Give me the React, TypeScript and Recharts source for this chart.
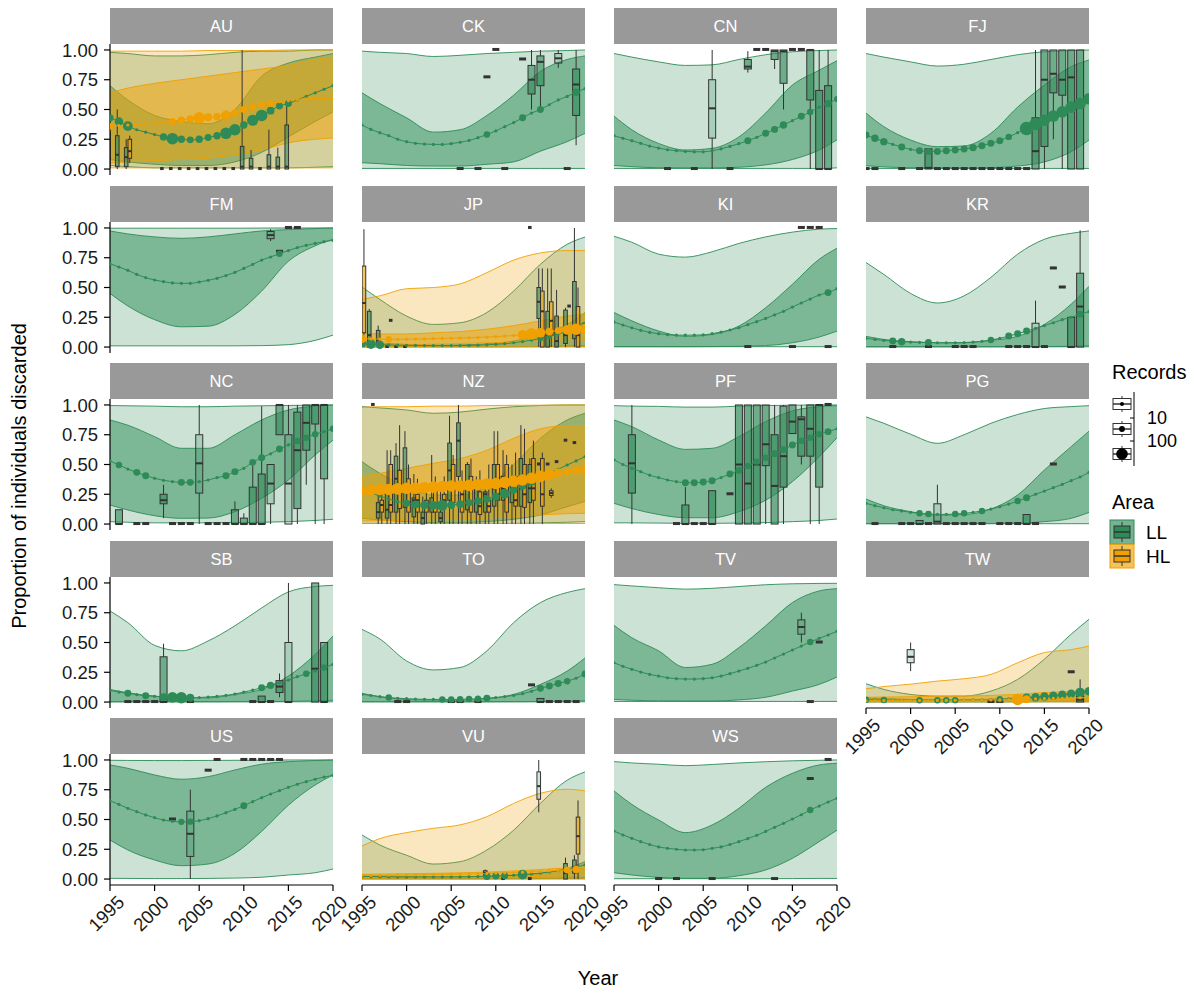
import React from "react";
import { ComposedChart, Area, Line, Bar, XAxis, YAxis } from "recharts";

const LL_COLOR = "#2E8B57";
const HL_COLOR = "#F0A000";
const INK = "#333333";
const TEXT = "#1a1a1a";
const STRIP_BG = "#999999";
const FONT = '"Liberation Sans", Arial, Helvetica, sans-serif';

const COL_X = [110, 362, 614, 866];
const ROW_Y = [8, 186, 363, 541, 718];
const PW = 223;
const PH = 131;
const STRIP_H = 36;

const YEARS = [1995, 1996, 1997, 1998, 1999, 2000, 2001, 2002, 2003, 2004, 2005, 2006, 2007,
  2008, 2009, 2010, 2011, 2012, 2013, 2014, 2015, 2016, 2017, 2018, 2019, 2020];
const KNOTS = [1995, 1997, 2000, 2003, 2006, 2009, 2012, 2015, 2018, 2020];
const X_TICKS = [1995, 2000, 2005, 2010, 2015, 2020];
const Y_TICKS = [0, 0.25, 0.5, 0.75, 1];
const RECORD_KEYS = [1, 10, 100];

// band rows: [outer low, inner low, inner high, outer high], one per knot
// box rows: [year, min, q1, median, q3, max, few] or [year, value] for a single value

// ---- AU ----
const AU_LL_MID = [0.43, 0.40, 0.36, 0.33, 0.31, 0.29, 0.27, 0.255, 0.25, 0.245, 0.25, 0.265, 0.28, 0.30, 0.33,
  0.37, 0.41, 0.45, 0.49, 0.53, 0.55, 0.58, 0.61, 0.64, 0.67, 0.70];
const AU_LL_BAND = [[0.03, 0.08, 0.70, 0.98], [0.02, 0.06, 0.58, 0.97], [0.01, 0.04, 0.45, 0.95], [0.01, 0.03, 0.40, 0.95],
  [0.01, 0.03, 0.38, 0.96], [0.01, 0.06, 0.50, 0.98], [0.01, 0.14, 0.78, 0.99], [0.01, 0.27, 0.89, 0.99],
  [0.015, 0.40, 0.94, 1.0], [0.02, 0.48, 0.97, 1.0]];
const AU_LL_REC = [[1995, 25], [1996, 40], [1997, 60], [2001, 25], [2002, 100], [2003, 25], [2004, 20], [2005, 25],
  [2006, 20], [2007, 25], [2008, 100], [2009, 100], [2010, 25], [2011, 90], [2012, 100], [2013, 30], [2014, 20], [2015, 20]];
const AU_LL_BOX = [[1995, 0, 0.01, 0.05, 0.31, 0.36, 0], [1996, 0, 0.02, 0.12, 0.28, 0.5, 0], [1997, 0, 0.02, 0.1, 0.18, 0.25, 0],
  [2001, 0], [2002, 0], [2003, 0], [2004, 0], [2005, 0], [2006, 0], [2007, 0], [2008, 0], [2009, 0],
  [2010, 0, 0, 0.02, 0.19, 1, 0], [2011, 0, 0, 0.02, 0.09, 0.16, 0], [2012, 0], [2013, 0, 0, 0.02, 0.12, 0.33, 0],
  [2014, 0, 0, 0.02, 0.1, 0.18, 0], [2015, 0, 0, 0.02, 0.37, 0.58, 0]];
const AU_HL_MID = [0.36, 0.365, 0.37, 0.375, 0.38, 0.385, 0.39, 0.40, 0.41, 0.42, 0.43, 0.435, 0.44, 0.45, 0.47,
  0.50, 0.52, 0.54, 0.55, 0.565, 0.575, 0.585, 0.59, 0.59, 0.59, 0.59];
const AU_HL_BAND = [[0.01, 0.05, 0.64, 0.99], [0.01, 0.06, 0.68, 0.99], [0.01, 0.07, 0.72, 0.99], [0.01, 0.08, 0.75, 0.99],
  [0.01, 0.09, 0.78, 0.995], [0.01, 0.12, 0.81, 0.995], [0.01, 0.16, 0.84, 0.995], [0.01, 0.22, 0.87, 1.0],
  [0.01, 0.25, 0.92, 1.0], [0.01, 0.26, 0.94, 1.0]];
const AU_HL_REC = [[1995, 15], [2002, 20], [2003, 25], [2004, 25], [2005, 100], [2006, 30], [2007, 25], [2008, 60],
  [2009, 25], [2010, 20], [2011, 20], [2012, 20], [2013, 15]];
const AU_HL_BOX = [[1997, 0.05, 0.09, 0.15, 0.25, 0.28, 0]];

// ---- CK ----
const CK_LL_MID = [0.37, 0.333, 0.305, 0.28, 0.25, 0.23, 0.216, 0.21, 0.207, 0.207, 0.213, 0.225, 0.24, 0.263, 0.29,
  0.32, 0.356, 0.39, 0.43, 0.47, 0.50, 0.54, 0.58, 0.61, 0.645, 0.675];
const CK_LL_BAND = [[0.005, 0.053, 0.64, 0.99], [0.005, 0.045, 0.55, 0.98], [0.005, 0.03, 0.43, 0.97], [0.005, 0.025, 0.31, 0.945],
  [0.005, 0.025, 0.33, 0.955], [0.005, 0.04, 0.45, 0.97], [0.005, 0.06, 0.62, 0.98], [0.005, 0.15, 0.82, 0.99],
  [0.005, 0.23, 0.92, 0.995], [0.005, 0.30, 0.95, 1.0]];
const CK_LL_REC = [[2009, 15], [2013, 20], [2015, 20], [2019, 25]];
const CK_LL_BOX = [[2006, 0], [2008, 0], [2009, 0.77], [2010, 1], [2011, 0], [2013, 0.92],
  [2014, 0.5, 0.63, 0.75, 0.87, 1, 0], [2015, 0.5, 0.7, 0.9, 0.95, 1, 0], [2017, 0.85, 0.89, 0.93, 0.97, 1, 1],
  [2018, 0], [2019, 0.2, 0.45, 0.71, 0.84, 1, 0]];

// ---- CN ----
const CN_LL_MID = [0.28, 0.258, 0.238, 0.216, 0.193, 0.176, 0.162, 0.154, 0.148, 0.145, 0.145, 0.154, 0.17, 0.19, 0.213,
  0.238, 0.266, 0.30, 0.333, 0.37, 0.406, 0.443, 0.48, 0.52, 0.55, 0.588];
const CN_LL_BAND = [[0.005, 0.03, 0.445, 0.97], [0.005, 0.02, 0.33, 0.94], [0.005, 0.011, 0.215, 0.90], [0.005, 0.01, 0.16, 0.87],
  [0.005, 0.01, 0.174, 0.875], [0.005, 0.015, 0.27, 0.92], [0.005, 0.035, 0.47, 0.96], [0.005, 0.08, 0.705, 0.985],
  [0.005, 0.16, 0.83, 0.995], [0.01, 0.245, 0.91, 1.0]];
const CN_LL_REC = [[2010, 20], [2012, 20], [2013, 20], [2014, 25], [2016, 20], [2017, 15], [2019, 25], [2020, 10]];
const CN_LL_BOX = [[2001, 0], [2004, 0], [2006, 0, 0.26, 0.51, 0.75, 1, 1], [2008, 0], [2010, 0.81, 0.84, 0.86, 0.92, 0.99, 0],
  [2011, 1], [2012, 1], [2013, 0.84, 0.92, 0.99, 1, 1, 0], [2014, 0.5, 0.72, 0.99, 1, 1, 0], [2015, 1], [2016, 1],
  [2017, 0, 0.58, 1, 1, 1, 0], [2018, 0, 0, 0, 0.66, 1, 0], [2019, 0, 0, 0, 0.7, 1, 0]];

// ---- FJ ----
const FJ_LL_MID = [0.286, 0.258, 0.23, 0.207, 0.185, 0.165, 0.154, 0.148, 0.148, 0.154, 0.16, 0.168, 0.18, 0.196, 0.216,
  0.238, 0.27, 0.305, 0.34, 0.378, 0.41, 0.445, 0.48, 0.52, 0.55, 0.59];
const FJ_LL_BAND = [[0.005, 0.028, 0.47, 0.97], [0.005, 0.018, 0.356, 0.94], [0.005, 0.011, 0.244, 0.90], [0.005, 0.008, 0.188, 0.865],
  [0.005, 0.008, 0.194, 0.88], [0.005, 0.012, 0.30, 0.92], [0.005, 0.025, 0.52, 0.96], [0.005, 0.06, 0.705, 0.985],
  [0.005, 0.146, 0.86, 0.995], [0.005, 0.244, 0.916, 1.0]];
const FJ_LL_REC = [[1995, 20], [1996, 25], [1997, 25], [1999, 20], [2001, 20], [2002, 20], [2003, 20], [2004, 20], [2005, 20],
  [2006, 20], [2007, 25], [2008, 20], [2009, 20], [2010, 20], [2011, 15], [2013, 150], [2014, 120], [2015, 100],
  [2016, 100], [2017, 100], [2018, 100], [2019, 100], [2020, 100]];
const FJ_LL_BOX = [[1995, 0], [1996, 0], [1999, 0], [2001, 0], [2002, 0, 0, 0.01, 0.17, 0.17, 0], [2003, 0], [2004, 0],
  [2005, 0], [2006, 0], [2007, 0], [2008, 0], [2009, 0], [2010, 0], [2011, 0], [2012, 0], [2013, 0],
  [2014, 0, 0, 0.15, 0.43, 1, 0], [2015, 0, 0.19, 0.75, 1, 1, 0], [2016, 0.25, 0.64, 0.8, 1, 1, 0],
  [2017, 0, 0.62, 0.75, 1, 1, 0], [2018, 0, 0, 0.77, 1, 1, 0], [2019, 0, 0, 0.55, 1, 1, 0]];

// ---- FM ----
const FM_LL_MID = [0.70, 0.672, 0.644, 0.61, 0.583, 0.563, 0.549, 0.538, 0.535, 0.535, 0.546, 0.56, 0.577, 0.60, 0.627,
  0.66, 0.694, 0.73, 0.756, 0.784, 0.81, 0.835, 0.854, 0.87, 0.885, 0.896];
const FM_LL_BAND = [[0.01, 0.45, 0.975, 0.998], [0.01, 0.345, 0.95, 0.998], [0.01, 0.23, 0.925, 0.998], [0.01, 0.17, 0.913, 0.998],
  [0.01, 0.175, 0.925, 0.998], [0.01, 0.274, 0.95, 0.998], [0.012, 0.47, 0.975, 0.999], [0.02, 0.72, 0.986, 1.0],
  [0.056, 0.85, 0.995, 1.0], [0.10, 0.905, 1.0, 1.0]];
const FM_LL_REC = [[2014, 15]];
const FM_LL_BOX = [[2013, 0.89, 0.91, 0.94, 0.97, 0.99, 1], [2014, 0.8], [2015, 1], [2016, 1]];

// ---- JP ----
const JP_LL_MID = [0.03, 0.025, 0.02, 0.018, 0.016, 0.015, 0.014, 0.013, 0.012, 0.012, 0.012, 0.013, 0.014, 0.016, 0.019,
  0.023, 0.028, 0.036, 0.046, 0.058, 0.072, 0.09, 0.11, 0.13, 0.155, 0.18];
const JP_LL_BAND = [[0.002, 0.002, 0.05, 0.504], [0.002, 0.002, 0.035, 0.40], [0.002, 0.002, 0.022, 0.26], [0.002, 0.002, 0.017, 0.19],
  [0.002, 0.002, 0.018, 0.204], [0.002, 0.002, 0.028, 0.29], [0.002, 0.003, 0.05, 0.47], [0.002, 0.005, 0.106, 0.695],
  [0.002, 0.008, 0.19, 0.863], [0.002, 0.01, 0.29, 0.924]];
const JP_LL_REC = [[1995, 30], [1996, 60], [1997, 40], [2015, 10], [2016, 10], [2019, 20], [2020, 30]];
const JP_LL_BOX = [[1996, 0, 0, 0.1, 0.3, 0.32, 0], [1997, 0, 0.02, 0.06, 0.14, 0.18, 0], [1998, 0], [1999, 0], [2000, 0],
  [2014, 1], [2015, 0, 0.24, 0.38, 0.5, 0.66, 0], [2016, 0, 0, 0.1, 0.3, 0.66, 0], [2017, 0, 0, 0.05, 0.26, 0.48, 0],
  [2018, 0, 0.03, 0.1, 0.31, 0.33, 0], [2019, 0, 0.07, 0.12, 0.55, 1, 0]];
const JP_HL_MID = [0.07, 0.068, 0.066, 0.065, 0.065, 0.066, 0.067, 0.068, 0.07, 0.072, 0.074, 0.076, 0.078, 0.081, 0.084,
  0.088, 0.092, 0.097, 0.103, 0.11, 0.12, 0.13, 0.138, 0.145, 0.15, 0.155];
const JP_HL_BAND = [[0.003, 0.02, 0.12, 0.40], [0.003, 0.02, 0.11, 0.43], [0.003, 0.02, 0.11, 0.49], [0.003, 0.025, 0.12, 0.50],
  [0.003, 0.03, 0.13, 0.53], [0.003, 0.035, 0.15, 0.625], [0.003, 0.04, 0.18, 0.73], [0.003, 0.05, 0.22, 0.79],
  [0.003, 0.06, 0.26, 0.81], [0.003, 0.06, 0.28, 0.81]];
const JP_HL_REC = [[1995, 40], [1998, 15], [2013, 60], [2014, 100], [2015, 60], [2016, 30], [2017, 20], [2018, 60],
  [2019, 100], [2020, 60]];
const JP_HL_BOX = [[1995, 0, 0.12, 0.37, 0.68, 0.99, 0], [1998, 0.22], [2015, 0, 0, 0.3, 0.47, 0.66, 0],
  [2016, 0, 0.1, 0.22, 0.38, 0.66, 0], [2018, 0.34], [2019, 0, 0, 0.1, 0.34, 0.5, 0]];

// ---- KI ----
const KI_LL_MID = [0.21, 0.185, 0.162, 0.14, 0.123, 0.112, 0.104, 0.10, 0.10, 0.10, 0.102, 0.112, 0.126, 0.143, 0.162,
  0.188, 0.213, 0.24, 0.27, 0.30, 0.336, 0.37, 0.403, 0.437, 0.457, 0.49];
const KI_LL_BAND = [[0.003, 0.003, 0.29, 0.93], [0.003, 0.003, 0.22, 0.88], [0.003, 0.003, 0.135, 0.78], [0.003, 0.003, 0.09, 0.755],
  [0.003, 0.004, 0.106, 0.80], [0.003, 0.006, 0.176, 0.87], [0.003, 0.012, 0.33, 0.925], [0.003, 0.036, 0.527, 0.965],
  [0.003, 0.084, 0.737, 0.99], [0.003, 0.134, 0.83, 0.995]];
const KI_LL_REC = [[2019, 20]];
const KI_LL_BOX = [[2010, 0], [2015, 0], [2016, 1], [2017, 1], [2018, 1], [2019, 0]];

// ---- KR ----
const KR_LL_MID = [0.073, 0.064, 0.056, 0.05, 0.045, 0.042, 0.04, 0.038, 0.036, 0.036, 0.036, 0.038, 0.042, 0.048, 0.059,
  0.073, 0.092, 0.112, 0.134, 0.157, 0.18, 0.204, 0.23, 0.25, 0.275, 0.297];
const KR_LL_BAND = [[0.002, 0.002, 0.09, 0.71], [0.002, 0.002, 0.064, 0.61], [0.002, 0.002, 0.045, 0.45], [0.002, 0.002, 0.036, 0.37],
  [0.002, 0.002, 0.036, 0.43], [0.002, 0.002, 0.056, 0.585], [0.002, 0.003, 0.09, 0.78], [0.002, 0.004, 0.19, 0.905],
  [0.002, 0.006, 0.36, 0.955], [0.002, 0.01, 0.51, 0.975]];
const KR_LL_REC = [[1998, 20], [1999, 25], [2002, 20], [2009, 15], [2011, 20], [2012, 20], [2013, 20], [2019, 20]];
const KR_LL_BOX = [[1998, 0], [2002, 0], [2005, 0], [2006, 0], [2007, 0], [2011, 0], [2012, 0], [2013, 0],
  [2014, 0, 0, 0, 0.2, 0.39, 1], [2015, 0], [2016, 0.66], [2017, 0.5], [2018, 0, 0, 0, 0.25, 0.25, 0],
  [2019, 0, 0, 0.34, 0.62, 0.98, 0]];

// ---- NC ----
const NC_LL_MID = [0.53, 0.496, 0.462, 0.434, 0.406, 0.384, 0.367, 0.356, 0.35, 0.35, 0.356, 0.37, 0.39, 0.406, 0.44,
  0.468, 0.518, 0.557, 0.59, 0.63, 0.664, 0.697, 0.725, 0.754, 0.776, 0.80];
const NC_LL_BAND = [[0.02, 0.16, 0.874, 0.995], [0.015, 0.118, 0.83, 0.993], [0.01, 0.07, 0.734, 0.99], [0.01, 0.048, 0.636, 0.985],
  [0.01, 0.05, 0.636, 0.985], [0.012, 0.104, 0.75, 0.99], [0.015, 0.216, 0.874, 0.993], [0.02, 0.37, 0.958, 0.996],
  [0.03, 0.58, 0.99, 0.998], [0.04, 0.705, 1.0, 1.0]];
const NC_LL_REC = [[1996, 15], [1998, 20], [1999, 20], [2003, 20], [2004, 20], [2008, 20], [2009, 20], [2011, 20],
  [2012, 20], [2014, 20], [2016, 15], [2017, 15], [2018, 15], [2020, 15]];
const NC_LL_BOX = [[1996, 0, 0, 0, 0.12, 0.12, 0], [1998, 0], [1999, 0], [2001, 0.05, 0.17, 0.2, 0.25, 0.33, 0], [2002, 0],
  [2003, 0], [2004, 0], [2005, 0, 0.26, 0.51, 0.75, 1, 1], [2006, 0], [2007, 0], [2008, 0], [2009, 0, 0, 0, 0.12, 0.19, 0],
  [2010, 0, 0, 0, 0.05, 0.09, 0], [2011, 0, 0, 0, 0.31, 0.49, 0], [2012, 0, 0, 0, 0.42, 0.99, 0],
  [2013, 0, 0.17, 0.34, 0.5, 0.5, 1], [2014, 0.75, 0.75, 1, 1, 1, 0], [2015, 0, 0, 0.34, 0.75, 1, 1],
  [2016, 0, 0.13, 0.62, 0.94, 1, 0], [2017, 0.33, 0.62, 0.85, 1, 1, 0], [2018, 0, 0.84, 1, 1, 1, 0], [2019, 0, 0.38, 1, 1, 1, 0]];

// ---- NZ ----
const NZ_LL_MID = [0.30, 0.263, 0.235, 0.21, 0.188, 0.174, 0.165, 0.16, 0.157, 0.157, 0.16, 0.168, 0.18, 0.193, 0.21,
  0.23, 0.255, 0.286, 0.32, 0.356, 0.39, 0.426, 0.46, 0.496, 0.53, 0.566];
const NZ_LL_BAND = [[0.005, 0.048, 0.524, 0.986], [0.005, 0.035, 0.426, 0.975], [0.005, 0.02, 0.314, 0.958], [0.005, 0.012, 0.244, 0.93],
  [0.005, 0.012, 0.244, 0.94], [0.005, 0.02, 0.314, 0.965], [0.005, 0.04, 0.50, 0.985], [0.01, 0.076, 0.72, 0.995],
  [0.015, 0.146, 0.874, 1.0], [0.02, 0.19, 0.93, 1.0]];
const NZ_LL_REC = [[2000, 20], [2001, 30], [2002, 40], [2003, 40], [2004, 80], [2005, 30], [2006, 30], [2007, 25],
  [2008, 25], [2009, 25], [2010, 30], [2011, 60], [2012, 25], [2013, 25], [2014, 30], [2015, 20]];
const NZ_LL_BOX = [[1997, 0, 0.05, 0.1, 0.18, 0.3, 0], [1998, 0, 0.05, 0.12, 0.3, 0.62, 0], [1999, 0, 0.1, 0.38, 0.57, 0.68, 0],
  [2000, 0, 0.14, 0.3, 0.64, 0.78, 0], [2001, 0, 0.06, 0.2, 0.22, 0.42, 0], [2002, 0, 0, 0.05, 0.1, 0.23, 0],
  [2003, 0, 0.1, 0.17, 0.22, 0.58, 0], [2004, 0, 0.02, 0.05, 0.1, 0.28, 0], [2005, 0, 0.2, 0.45, 0.68, 0.91, 0],
  [2006, 0, 0.4, 0.7, 0.85, 1, 0], [2007, 0, 0.12, 0.3, 0.5, 0.52, 0], [2008, 0, 0.1, 0.2, 0.3, 0.4, 0],
  [2009, 0, 0.1, 0.25, 0.27, 0.33, 0], [2010, 0, 0.15, 0.3, 0.5, 0.78, 0], [2011, 0, 0.2, 0.3, 0.4, 0.62, 0],
  [2012, 0, 0.18, 0.3, 0.35, 0.5, 0], [2013, 0, 0.15, 0.3, 0.55, 0.83, 0], [2014, 0, 0.18, 0.3, 0.5, 0.55, 0],
  [2015, 0.5], [2016, 0.5], [2017, 0.52], [2018, 0.7], [2019, 0.68]];
const NZ_HL_MID = [0.28, 0.285, 0.29, 0.29, 0.295, 0.30, 0.30, 0.305, 0.31, 0.315, 0.32, 0.32, 0.325, 0.33, 0.335,
  0.34, 0.35, 0.36, 0.37, 0.385, 0.40, 0.415, 0.43, 0.44, 0.45, 0.455];
const NZ_HL_BAND = [[0.005, 0.025, 0.40, 0.98], [0.005, 0.028, 0.426, 0.985], [0.005, 0.03, 0.468, 0.985], [0.005, 0.036, 0.51, 0.99],
  [0.005, 0.042, 0.55, 0.99], [0.005, 0.05, 0.62, 0.995], [0.005, 0.062, 0.72, 0.997], [0.005, 0.076, 0.80, 0.998],
  [0.005, 0.087, 0.826, 1.0], [0.005, 0.09, 0.826, 1.0]];
const NZ_HL_REC = [[1995, 60], [1996, 80], [1997, 100], [1998, 100], [1999, 100], [2000, 100], [2001, 100], [2002, 100],
  [2003, 100], [2004, 100], [2005, 100], [2006, 100], [2007, 100], [2008, 100], [2009, 100], [2010, 100], [2011, 100],
  [2012, 100], [2013, 100], [2014, 100], [2015, 100], [2016, 100], [2017, 40], [2018, 20], [2019, 30], [2020, 60]];
const NZ_HL_BOX = [[1996, 1], [1997, 0, 0.1, 0.16, 0.2, 0.28, 0], [1998, 0, 0.1, 0.16, 0.5, 0.62, 0], [1999, 0, 0.13, 0.3, 0.45, 0.83, 0],
  [2000, 0, 0.1, 0.18, 0.38, 0.5, 0], [2001, 0, 0.1, 0.2, 0.25, 0.38, 0], [2002, 0, 0.1, 0.15, 0.2, 0.32, 0],
  [2003, 0, 0.1, 0.17, 0.3, 0.4, 0], [2004, 0, 0.15, 0.2, 0.25, 0.4, 0], [2005, 0, 0.18, 0.35, 0.5, 0.58, 0],
  [2006, 0, 0.1, 0.25, 0.35, 0.45, 0], [2007, 0, 0.1, 0.3, 0.4, 0.55, 0], [2008, 0, 0.08, 0.15, 0.27, 0.45, 0],
  [2009, 0, 0.1, 0.15, 0.2, 0.5, 0], [2010, 0, 0.2, 0.25, 0.5, 0.78, 0], [2011, 0, 0.1, 0.25, 0.5, 0.58, 0],
  [2012, 0, 0.15, 0.2, 0.4, 0.6, 0], [2013, 0, 0.14, 0.25, 0.5, 0.8, 0], [2014, 0, 0.2, 0.3, 0.55, 0.7, 0],
  [2015, 0, 0.15, 0.25, 0.55, 0.6, 0], [2016, 0.22, 0.24, 0.26, 0.28, 0.3, 1]];

// ---- PF ----
const PF_LL_MID = [0.54, 0.50, 0.468, 0.44, 0.41, 0.39, 0.37, 0.356, 0.347, 0.347, 0.353, 0.364, 0.39, 0.42, 0.45,
  0.487, 0.524, 0.557, 0.59, 0.625, 0.664, 0.70, 0.725, 0.754, 0.776, 0.80];
const PF_LL_BAND = [[0.01, 0.174, 0.874, 0.994], [0.01, 0.13, 0.818, 0.99], [0.008, 0.08, 0.706, 0.988], [0.006, 0.053, 0.627, 0.982],
  [0.006, 0.053, 0.636, 0.982], [0.008, 0.104, 0.734, 0.99], [0.012, 0.20, 0.86, 0.995], [0.02, 0.356, 0.95, 0.998],
  [0.03, 0.566, 0.986, 1.0], [0.042, 0.725, 0.994, 1.0]];
const PF_LL_REC = [[2003, 20], [2004, 20], [2005, 20], [2006, 20], [2008, 20], [2009, 20], [2010, 15], [2011, 15],
  [2012, 15], [2013, 20], [2014, 20], [2015, 20], [2016, 15], [2017, 15], [2018, 15], [2019, 20]];
const PF_LL_BOX = [[1997, 0, 0.26, 0.51, 0.75, 1, 0], [2002, 0], [2003, 0, 0, 0, 0.16, 0.31, 0], [2004, 0], [2005, 0],
  [2006, 0, 0, 0, 0.28, 0.28, 0], [2008, 0.25], [2009, 0, 0, 0.5, 1, 1, 0], [2010, 0, 0, 0.34, 1, 1, 0],
  [2011, 0, 0, 0.5, 1, 1, 0], [2012, 0, 0.49, 0.67, 1, 1, 0], [2013, 0, 0, 0.32, 0.75, 1, 0], [2014, 0, 0.31, 0.57, 0.99, 1, 0],
  [2015, 0.76, 0.76, 0.86, 1, 1, 0], [2016, 0.5, 0.57, 0.88, 0.9, 1, 0], [2017, 0, 0.57, 0.8, 1, 1, 0],
  [2018, 0, 0.31, 1, 1, 1, 0], [2019, 1]];

// ---- PG ----
const PG_LL_MID = [0.174, 0.154, 0.137, 0.12, 0.11, 0.098, 0.09, 0.084, 0.081, 0.081, 0.084, 0.09, 0.098, 0.11, 0.126,
  0.146, 0.168, 0.193, 0.22, 0.25, 0.277, 0.305, 0.333, 0.364, 0.395, 0.434];
const PG_LL_BAND = [[0.003, 0.003, 0.21, 0.90], [0.003, 0.003, 0.154, 0.846], [0.003, 0.003, 0.104, 0.754], [0.003, 0.003, 0.076, 0.678],
  [0.003, 0.003, 0.08, 0.75], [0.003, 0.004, 0.126, 0.846], [0.003, 0.008, 0.244, 0.92], [0.003, 0.02, 0.454, 0.97],
  [0.003, 0.048, 0.65, 0.986], [0.003, 0.098, 0.78, 0.994]];
const PG_LL_REC = [[2001, 15], [2002, 15], [2005, 15], [2006, 15], [2008, 15], [2012, 15], [2013, 20]];
const PG_LL_BOX = [[1996, 0], [1999, 0], [2000, 0], [2001, 0, 0, 0, 0.03, 0.03, 0], [2002, 0], [2003, 0, 0, 0.02, 0.17, 0.33, 1],
  [2004, 0], [2005, 0], [2006, 0], [2007, 0], [2008, 0], [2010, 0], [2011, 0], [2012, 0], [2013, 0, 0, 0, 0.08, 0.08, 0],
  [2014, 0], [2016, 0.5]];

// ---- SB ----
const SB_LL_MID = [0.098, 0.084, 0.073, 0.062, 0.053, 0.048, 0.042, 0.04, 0.036, 0.036, 0.038, 0.042, 0.048, 0.056, 0.067,
  0.084, 0.10, 0.12, 0.14, 0.162, 0.185, 0.213, 0.238, 0.26, 0.29, 0.316];
const SB_LL_BAND = [[0.002, 0.002, 0.106, 0.765], [0.002, 0.002, 0.078, 0.667], [0.002, 0.002, 0.05, 0.476], [0.002, 0.002, 0.036, 0.43],
  [0.002, 0.002, 0.036, 0.513], [0.002, 0.003, 0.064, 0.64], [0.002, 0.004, 0.106, 0.79], [0.002, 0.005, 0.218, 0.925],
  [0.002, 0.01, 0.40, 0.97], [0.002, 0.015, 0.555, 0.98]];
const SB_LL_REC = [[1997, 20], [1999, 20], [2001, 30], [2002, 80], [2003, 100], [2004, 30], [2012, 20], [2013, 25],
  [2017, 15], [2019, 15]];
const SB_LL_BOX = [[1997, 0], [1998, 0], [1999, 0], [2000, 0], [2001, 0, 0, 0, 0.38, 0.49, 0], [2004, 0], [2011, 0],
  [2012, 0, 0, 0, 0.05, 0.05, 0], [2013, 0], [2014, 0.04, 0.08, 0.13, 0.18, 0.24, 0], [2015, 0, 0, 0, 0.5, 1, 1],
  [2018, 0, 0, 0.28, 1, 1, 0], [2019, 0, 0, 0, 0.5, 0.5, 0]];

// ---- TO ----
const TO_LL_MID = [0.065, 0.055, 0.045, 0.038, 0.032, 0.028, 0.025, 0.023, 0.022, 0.022, 0.022, 0.023, 0.025, 0.028, 0.032,
  0.038, 0.046, 0.056, 0.07, 0.09, 0.115, 0.135, 0.155, 0.175, 0.20, 0.235];
const TO_LL_BAND = [[0.002, 0.002, 0.073, 0.61], [0.002, 0.002, 0.045, 0.53], [0.002, 0.002, 0.022, 0.345], [0.002, 0.002, 0.017, 0.27],
  [0.002, 0.002, 0.017, 0.29], [0.002, 0.002, 0.028, 0.43], [0.002, 0.003, 0.064, 0.667], [0.002, 0.004, 0.148, 0.835],
  [0.002, 0.006, 0.26, 0.92], [0.002, 0.01, 0.37, 0.952]];
const TO_LL_REC = [[1998, 15], [2004, 15], [2005, 15], [2006, 15], [2007, 15], [2008, 15], [2009, 20], [2015, 20],
  [2016, 20], [2017, 20], [2018, 15], [2020, 20]];
const TO_LL_BOX = [[1999, 0], [2000, 0], [2005, 0], [2006, 0], [2008, 0], [2014, 0.14], [2015, 0, 0, 0, 0.03, 0.03, 0],
  [2016, 0], [2017, 0], [2018, 0], [2019, 0]];

// ---- TV ----
const TV_LL_MID = [0.33, 0.30, 0.275, 0.252, 0.232, 0.218, 0.204, 0.196, 0.193, 0.193, 0.196, 0.204, 0.218, 0.238, 0.26,
  0.283, 0.308, 0.336, 0.37, 0.403, 0.437, 0.47, 0.504, 0.535, 0.563, 0.594];
const TV_LL_BAND = [[0.005, 0.022, 0.644, 0.986], [0.005, 0.015, 0.54, 0.975], [0.005, 0.01, 0.43, 0.96], [0.005, 0.008, 0.29, 0.948],
  [0.005, 0.008, 0.317, 0.955], [0.005, 0.018, 0.457, 0.97], [0.005, 0.04, 0.64, 0.985], [0.005, 0.092, 0.835, 0.993],
  [0.005, 0.148, 0.933, 0.996], [0.005, 0.21, 0.952, 0.997]];
const TV_LL_REC = [[2017, 15]];
const TV_LL_BOX = [[2016, 0.5, 0.57, 0.63, 0.69, 0.75, 1], [2017, 0], [2018, 0.5]];

// ---- TW ----
const TW_LL_MID = [0.02, 0.018, 0.017, 0.016, 0.015, 0.015, 0.015, 0.015, 0.015, 0.015, 0.016, 0.017, 0.018, 0.019, 0.021,
  0.023, 0.026, 0.03, 0.035, 0.04, 0.046, 0.053, 0.061, 0.07, 0.08, 0.09];
const TW_LL_BAND = [[0.002, 0.002, 0.036, 0.154], [0.002, 0.002, 0.03, 0.106], [0.002, 0.002, 0.022, 0.064], [0.002, 0.002, 0.02, 0.05],
  [0.002, 0.002, 0.02, 0.05], [0.002, 0.002, 0.025, 0.092], [0.002, 0.003, 0.035, 0.19], [0.002, 0.004, 0.05, 0.36],
  [0.002, 0.006, 0.078, 0.57], [0.002, 0.008, 0.106, 0.695]];
const TW_LL_REC = [[1995, 15], [1997, 15], [2001, 15], [2003, 15], [2004, 15], [2005, 15], [2010, 15], [2012, 20],
  [2013, 40], [2014, 40], [2015, 40], [2016, 40], [2017, 40], [2018, 40], [2019, 60], [2020, 40]];
const TW_LL_BOX = [[2000, 0.26, 0.33, 0.38, 0.44, 0.5, 1], [2009, 0], [2010, 0], [2018, 0.25], [2019, 0, 0, 0.02, 0.05, 0.19, 0]];
const TW_HL_MID = [0.012, 0.012, 0.012, 0.012, 0.012, 0.013, 0.013, 0.013, 0.014, 0.014, 0.015, 0.015, 0.016, 0.017, 0.018,
  0.019, 0.02, 0.022, 0.024, 0.026, 0.028, 0.03, 0.032, 0.034, 0.036, 0.038];
const TW_HL_BAND = [[0.002, 0.005, 0.04, 0.112], [0.002, 0.005, 0.042, 0.13], [0.002, 0.005, 0.045, 0.15], [0.002, 0.005, 0.048, 0.176],
  [0.002, 0.005, 0.05, 0.196], [0.002, 0.006, 0.055, 0.232], [0.002, 0.007, 0.065, 0.33], [0.002, 0.008, 0.08, 0.415],
  [0.002, 0.009, 0.088, 0.44], [0.002, 0.01, 0.09, 0.47]];
const TW_HL_REC = [[2012, 100], [2013, 30]];
const TW_HL_BOX: number[][] = [];

// ---- US ----
const US_LL_MID = [0.658, 0.627, 0.594, 0.566, 0.538, 0.515, 0.496, 0.485, 0.48, 0.482, 0.49, 0.507, 0.53, 0.557, 0.585,
  0.616, 0.65, 0.683, 0.714, 0.742, 0.77, 0.796, 0.818, 0.838, 0.857, 0.87];
const US_LL_BAND = [[0.006, 0.328, 0.958, 0.997], [0.005, 0.244, 0.93, 0.996], [0.004, 0.16, 0.874, 0.995], [0.004, 0.112, 0.838, 0.995],
  [0.005, 0.126, 0.86, 0.996], [0.008, 0.216, 0.916, 0.997], [0.015, 0.40, 0.964, 0.998], [0.034, 0.62, 0.986, 1.0],
  [0.053, 0.79, 0.995, 1.0], [0.084, 0.874, 1.0, 1.0]];
const US_LL_REC = [[2003, 12], [2004, 15], [2010, 20]];
const US_LL_BOX = [[2002, 0.5], [2004, 0, 0.19, 0.38, 0.57, 0.75, 1], [2006, 0.91], [2007, 1], [2010, 1], [2011, 1],
  [2012, 1], [2013, 1], [2014, 1]];

// ---- VU ----
const VU_LL_MID = [0.022, 0.021, 0.02, 0.019, 0.018, 0.018, 0.018, 0.018, 0.018, 0.018, 0.018, 0.019, 0.02, 0.021, 0.023,
  0.025, 0.028, 0.032, 0.037, 0.043, 0.05, 0.059, 0.07, 0.083, 0.10, 0.12];
const VU_LL_BAND = [[0.002, 0.002, 0.034, 0.37], [0.002, 0.002, 0.028, 0.286], [0.002, 0.002, 0.02, 0.20], [0.002, 0.002, 0.018, 0.126],
  [0.002, 0.002, 0.019, 0.146], [0.002, 0.002, 0.024, 0.244], [0.002, 0.003, 0.035, 0.41], [0.002, 0.004, 0.048, 0.636],
  [0.002, 0.006, 0.09, 0.83], [0.002, 0.008, 0.146, 0.90]];
const VU_LL_REC = [[2009, 25], [2010, 20], [2011, 20], [2013, 60]];
const VU_LL_BOX = [[2009, 0, 0.03, 0.05, 0.07, 0.08, 0], [2011, 0], [2014, 0], [2015, 0.56, 0.67, 0.78, 0.9, 1, 1],
  [2018, 0, 0, 0.05, 0.13, 0.18, 0], [2019, 0, 0.05, 0.1, 0.16, 0.2, 0]];
const VU_HL_MID = [0.03, 0.03, 0.031, 0.032, 0.033, 0.034, 0.035, 0.036, 0.037, 0.038, 0.04, 0.041, 0.043, 0.045, 0.047,
  0.05, 0.052, 0.055, 0.058, 0.061, 0.064, 0.068, 0.072, 0.076, 0.08, 0.085];
const VU_HL_BAND = [[0.002, 0.01, 0.04, 0.277], [0.002, 0.01, 0.042, 0.34], [0.002, 0.011, 0.045, 0.39], [0.002, 0.012, 0.048, 0.426],
  [0.002, 0.013, 0.052, 0.455], [0.002, 0.015, 0.058, 0.524], [0.002, 0.018, 0.068, 0.635], [0.002, 0.022, 0.08, 0.72],
  [0.002, 0.026, 0.095, 0.754], [0.002, 0.028, 0.10, 0.74]];
const VU_HL_REC = [[2018, 20], [2019, 25]];
const VU_HL_BOX = [[2019, 0, 0.21, 0.36, 0.52, 0.66, 0]];

// ---- WS ----
const WS_LL_MID = [0.403, 0.37, 0.342, 0.314, 0.29, 0.27, 0.258, 0.25, 0.244, 0.244, 0.246, 0.258, 0.27, 0.29, 0.314,
  0.34, 0.367, 0.40, 0.434, 0.468, 0.504, 0.54, 0.58, 0.613, 0.647, 0.678];
const WS_LL_BAND = [[0.003, 0.053, 0.74, 0.986], [0.003, 0.034, 0.627, 0.975], [0.003, 0.014, 0.496, 0.964], [0.003, 0.006, 0.39, 0.952],
  [0.003, 0.006, 0.454, 0.962], [0.003, 0.028, 0.594, 0.975], [0.003, 0.076, 0.77, 0.985], [0.004, 0.174, 0.888, 0.993],
  [0.005, 0.314, 0.958, 0.997], [0.005, 0.41, 0.972, 1.0]];
const WS_LL_REC = [[2017, 15]];
const WS_LL_BOX = [[2000, 0], [2002, 0], [2006, 0], [2013, 0], [2017, 0.84], [2019, 1]];

type Series = { mid: number[]; band: number[][]; rec: number[][]; box: number[][] };
type PanelDef = { code: string; ll: Series; hl?: Series };

const s = (mid: number[], band: number[][], rec: number[][], box: number[][]): Series => ({ mid, band, rec, box });

const PANELS: PanelDef[] = [
  { code: "AU", ll: s(AU_LL_MID, AU_LL_BAND, AU_LL_REC, AU_LL_BOX), hl: s(AU_HL_MID, AU_HL_BAND, AU_HL_REC, AU_HL_BOX) },
  { code: "CK", ll: s(CK_LL_MID, CK_LL_BAND, CK_LL_REC, CK_LL_BOX) },
  { code: "CN", ll: s(CN_LL_MID, CN_LL_BAND, CN_LL_REC, CN_LL_BOX) },
  { code: "FJ", ll: s(FJ_LL_MID, FJ_LL_BAND, FJ_LL_REC, FJ_LL_BOX) },
  { code: "FM", ll: s(FM_LL_MID, FM_LL_BAND, FM_LL_REC, FM_LL_BOX) },
  { code: "JP", ll: s(JP_LL_MID, JP_LL_BAND, JP_LL_REC, JP_LL_BOX), hl: s(JP_HL_MID, JP_HL_BAND, JP_HL_REC, JP_HL_BOX) },
  { code: "KI", ll: s(KI_LL_MID, KI_LL_BAND, KI_LL_REC, KI_LL_BOX) },
  { code: "KR", ll: s(KR_LL_MID, KR_LL_BAND, KR_LL_REC, KR_LL_BOX) },
  { code: "NC", ll: s(NC_LL_MID, NC_LL_BAND, NC_LL_REC, NC_LL_BOX) },
  { code: "NZ", ll: s(NZ_LL_MID, NZ_LL_BAND, NZ_LL_REC, NZ_LL_BOX), hl: s(NZ_HL_MID, NZ_HL_BAND, NZ_HL_REC, NZ_HL_BOX) },
  { code: "PF", ll: s(PF_LL_MID, PF_LL_BAND, PF_LL_REC, PF_LL_BOX) },
  { code: "PG", ll: s(PG_LL_MID, PG_LL_BAND, PG_LL_REC, PG_LL_BOX) },
  { code: "SB", ll: s(SB_LL_MID, SB_LL_BAND, SB_LL_REC, SB_LL_BOX) },
  { code: "TO", ll: s(TO_LL_MID, TO_LL_BAND, TO_LL_REC, TO_LL_BOX) },
  { code: "TV", ll: s(TV_LL_MID, TV_LL_BAND, TV_LL_REC, TV_LL_BOX) },
  { code: "TW", ll: s(TW_LL_MID, TW_LL_BAND, TW_LL_REC, TW_LL_BOX), hl: s(TW_HL_MID, TW_HL_BAND, TW_HL_REC, TW_HL_BOX) },
  { code: "US", ll: s(US_LL_MID, US_LL_BAND, US_LL_REC, US_LL_BOX) },
  { code: "VU", ll: s(VU_LL_MID, VU_LL_BAND, VU_LL_REC, VU_LL_BOX), hl: s(VU_HL_MID, VU_HL_BAND, VU_HL_REC, VU_HL_BOX) },
  { code: "WS", ll: s(WS_LL_MID, WS_LL_BAND, WS_LL_REC, WS_LL_BOX) },
];

const dotRadius = (n: number) => 1.6 + 0.42 * Math.sqrt(n || 0);

const recordsAt = (rec: number[][], year: number) => {
  const r = rec.find((e) => e[0] === year);
  return r ? r[1] : 0;
};

const boxAt = (box: number[][], year: number) => {
  const b = box.find((e) => e[0] === year);
  if (!b) return undefined;
  if (b.length === 2) return [b[1], b[1], b[1], b[1], b[1], 0];
  return b.slice(1);
};

function buildRows(p: PanelDef) {
  return YEARS.map((x, i) => {
    const row: any = { x, m: p.ll.mid[i], mn: recordsAt(p.ll.rec, x) };
    const lq = boxAt(p.ll.box, x);
    if (lq) {
      row.lq = lq;
      row.lb = [lq[0], lq[4]];
    }
    if (p.hl) {
      row.h = p.hl.mid[i];
      row.hn = recordsAt(p.hl.rec, x);
      const hq = boxAt(p.hl.box, x);
      if (hq) {
        row.hq = hq;
        row.hb = [hq[0], hq[4]];
      }
    }
    return row;
  });
}

function buildBand(ser: Series) {
  return KNOTS.map((x, i) => ({
    x,
    outer: [ser.band[i][0], ser.band[i][3]],
    inner: [ser.band[i][1], ser.band[i][2]],
  }));
}

function makeBoxShape(qKey: string, color: string) {
  return (props: any) => {
    const { x, y, width, height, payload } = props;
    const q = payload && payload[qKey];
    if (!q || x == null || y == null) return <g />;
    const [mn, q1, md, q3, mx, few] = q;
    const top = height < 0 ? y + height : y;
    const h = Math.abs(height);
    if (mx - mn <= 0) {
      return <rect x={x} y={top + h / 2 - 1.5} width={width} height={3} fill={INK} />;
    }
    const py = (v: number) => top + (h * (mx - v)) / (mx - mn);
    const cx = x + width / 2;
    return (
      <g>
        <line x1={cx} x2={cx} y1={py(mx)} y2={py(q3)} stroke={INK} strokeWidth={1} />
        <line x1={cx} x2={cx} y1={py(q1)} y2={py(mn)} stroke={INK} strokeWidth={1} />
        <rect x={x} y={py(q3)} width={width} height={Math.max(py(q1) - py(q3), 0.5)}
          fill={color} fillOpacity={few ? 0.22 : 0.6} stroke={INK} strokeWidth={1} />
        <line x1={x} x2={x + width} y1={py(md)} y2={py(md)} stroke={INK} strokeWidth={2} />
      </g>
    );
  };
}

function makeDot(nKey: string, color: string) {
  return (props: any) => {
    const { cx, cy, payload, index } = props;
    if (cx == null || cy == null) return <g key={`d${index}`} />;
    return <circle key={`d${index}`} cx={cx} cy={cy} r={dotRadius(payload[nKey])} fill={color} />;
  };
}

const XTick = (props: any) => {
  const { x, y, payload } = props;
  const ax = x + 6;
  const ay = y + 1;
  return (
    <text x={ax} y={ay} dy="0.72em" textAnchor="end" transform={`rotate(-45, ${ax}, ${ay})`}
      fontSize={18.5} fill={TEXT} fontFamily={FONT}>
      {payload.value}
    </text>
  );
};

function Panel({ p, idx }: { p: PanelDef; idx: number }) {
  const col = idx % 4;
  const row = Math.floor(idx / 4);
  const showY = col === 0;
  const showX = row === 4 || p.code === "TW";
  const yw = showY ? 62 : 0;
  const xh = showX ? 64 : 0;
  // room for rotated year labels that hang past the panel edges
  const ml = showX && !showY ? 46 : 0;
  const mr = showX ? 14 : 0;
  const rows = buildRows(p);
  const llBand = buildBand(p.ll);
  const hlBand = p.hl ? buildBand(p.hl) : null;
  const dodge = !!p.hl && p.hl.box.length > 0;
  const bw = dodge ? 3.6 : 7;

  return (
    <>
      <div
        style={{
          position: "absolute", left: COL_X[col], top: ROW_Y[row], width: PW, height: STRIP_H,
          background: STRIP_BG, color: "#ffffff", fontSize: 16.5, display: "flex",
          alignItems: "center", justifyContent: "center", fontFamily: FONT,
        }}
      >
        {p.code}
      </div>
      <div style={{ position: "absolute", left: COL_X[col] - yw - ml, top: ROW_Y[row] + STRIP_H }}>
        <ComposedChart width={PW + yw + ml + mr} height={PH + xh} data={rows}
          margin={{ top: 0, right: mr, bottom: 0, left: ml }} barGap={0}>
          <XAxis type="number" dataKey="x" domain={[1995, 2020]} ticks={X_TICKS} interval={0} allowDataOverflow
            hide={!showX} height={xh} tickSize={6} tickMargin={2} tick={<XTick />}
            axisLine={{ stroke: "#000", strokeWidth: 1.2 }} tickLine={{ stroke: "#000", strokeWidth: 1.2 }} />
          <YAxis type="number" domain={[-0.05, 1.05]} ticks={Y_TICKS} interval={0} allowDataOverflow hide={!showY}
            width={yw} tickSize={6} tickMargin={6} tickFormatter={(v: number) => v.toFixed(2)}
            tick={{ fill: TEXT, fontSize: 18.5, fontFamily: FONT }}
            axisLine={{ stroke: "#000", strokeWidth: 1.2 }} tickLine={{ stroke: "#000", strokeWidth: 1.2 }} />
          <Area data={llBand} dataKey="outer" type="monotone" stroke={LL_COLOR} strokeWidth={0.9}
            fill={LL_COLOR} fillOpacity={0.25} dot={false} activeDot={false} isAnimationActive={false} />
          <Area data={llBand} dataKey="inner" type="monotone" stroke={LL_COLOR} strokeWidth={0.9}
            fill={LL_COLOR} fillOpacity={0.5} dot={false} activeDot={false} isAnimationActive={false} />
          {hlBand && (
            <Area data={hlBand} dataKey="outer" type="monotone" stroke={HL_COLOR} strokeWidth={0.9}
              fill={HL_COLOR} fillOpacity={0.25} dot={false} activeDot={false} isAnimationActive={false} />
          )}
          {hlBand && (
            <Area data={hlBand} dataKey="inner" type="monotone" stroke={HL_COLOR} strokeWidth={0.9}
              fill={HL_COLOR} fillOpacity={0.5} dot={false} activeDot={false} isAnimationActive={false} />
          )}
          <Bar dataKey="lb" barSize={bw} minPointSize={1} shape={makeBoxShape("lq", LL_COLOR)}
            isAnimationActive={false} />
          {dodge && (
            <Bar dataKey="hb" barSize={bw} minPointSize={1} shape={makeBoxShape("hq", HL_COLOR)}
              isAnimationActive={false} />
          )}
          <Line dataKey="m" type="monotone" stroke={LL_COLOR} strokeWidth={1} dot={makeDot("mn", LL_COLOR)}
            activeDot={false} isAnimationActive={false} />
          {p.hl && (
            <Line dataKey="h" type="monotone" stroke={HL_COLOR} strokeWidth={1} dot={makeDot("hn", HL_COLOR)}
              activeDot={false} isAnimationActive={false} />
          )}
        </ComposedChart>
      </div>
    </>
  );
}

function Legends() {
  const keyY = [404, 429, 454];
  return (
    <svg width={1202} height={992} style={{ position: "absolute", left: 0, top: 0 }} fontFamily={FONT}>
      <text x={19} y={476} transform="rotate(-90, 19, 476)" textAnchor="middle" dominantBaseline="central"
        fontSize={20} fill="#000">
        Proportion of individuals discarded
      </text>
      <text x={598} y={985} textAnchor="middle" fontSize={20} fill="#000">Year</text>

      <text x={1112} y={379} fontSize={20} fill="#000">Records</text>
      {RECORD_KEYS.map((n, i) => (
        <g key={n}>
          <line x1={1122} x2={1122} y1={keyY[i] - 8} y2={keyY[i] + 8} stroke={INK} strokeWidth={1} />
          <rect x={1113} y={keyY[i] - 5.5} width={18} height={11} fill="#fff" stroke={INK} strokeWidth={1} />
          <line x1={1113} x2={1131} y1={keyY[i]} y2={keyY[i]} stroke={INK} strokeWidth={1.5} />
          <circle cx={1122} cy={keyY[i]} r={dotRadius(n)} fill="#000" />
        </g>
      ))}
      <line x1={1134} x2={1134} y1={392} y2={466} stroke="#000" strokeWidth={1} />
      <line x1={1130} x2={1134} y1={418} y2={418} stroke="#000" strokeWidth={1} />
      <line x1={1130} x2={1134} y1={441} y2={441} stroke="#000" strokeWidth={1} />
      <text x={1147} y={418} dominantBaseline="central" fontSize={18} fill="#000">10</text>
      <text x={1147} y={441} dominantBaseline="central" fontSize={18} fill="#000">100</text>

      <text x={1112} y={509} fontSize={20} fill="#000">Area</text>
      {[{ c: LL_COLOR, t: "LL", y: 520 }, { c: HL_COLOR, t: "HL", y: 544 }].map((k) => (
        <g key={k.t}>
          <rect x={1110} y={k.y} width={24} height={24} fill={k.c} fillOpacity={0.65} stroke={k.c} strokeWidth={1} />
          <line x1={1122} x2={1122} y1={k.y + 2} y2={k.y + 22} stroke={INK} strokeWidth={1} />
          <rect x={1114} y={k.y + 6} width={16} height={12} fill={k.c} stroke={INK} strokeWidth={1} />
          <line x1={1114} x2={1130} y1={k.y + 12} y2={k.y + 12} stroke={INK} strokeWidth={1.5} />
          <text x={1146} y={k.y + 12} dominantBaseline="central" fontSize={19} fill="#000">{k.t}</text>
        </g>
      ))}
    </svg>
  );
}

export default function App() {
  return (
    <div style={{ position: "absolute", left: 0, top: 0, width: 1202, height: 992, background: "#fff", fontFamily: FONT }}>
      <style>{".recharts-wrapper svg { overflow: visible; }"}</style>
      <Legends />
      {PANELS.map((p, i) => (
        <Panel key={p.code} p={p} idx={i} />
      ))}
    </div>
  );
}
